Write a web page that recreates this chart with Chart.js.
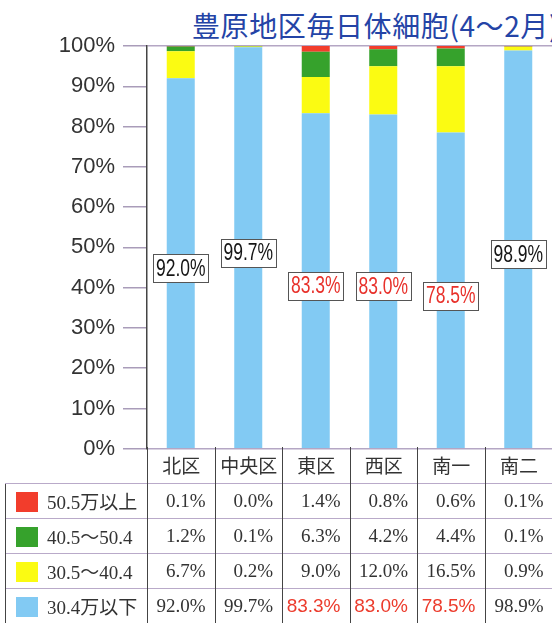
<!DOCTYPE html>
<html>
<head>
<meta charset="utf-8">
<script src="https://cdn.jsdelivr.net/npm/chart.js@4/dist/chart.umd.min.js"></script>
<style>
  html,body{margin:0;padding:0;background:#fff;width:552px;height:627px;overflow:hidden;position:relative;}
  #title{position:absolute;left:192px;top:8px;line-height:34px;white-space:nowrap;font-family:"Noto Sans CJK JP",sans-serif;font-size:28px;letter-spacing:0.6px;color:#2444a6;}
  #wrap{position:absolute;left:0;top:0;width:552px;height:470px;}
  #tbl{position:absolute;left:5px;top:447px;border-collapse:collapse;table-layout:fixed;width:547px;}
  #tbl td{padding:0;height:35px;box-sizing:border-box;overflow:hidden;white-space:nowrap;}
  #tbl td.hdr{text-align:center;font-family:"Noto Sans CJK JP",sans-serif;font-size:19px;color:#333;border-left:1.5px solid #444;}
  #tbl td.blank{border:none;}
  #tbl td.leg{border-left:1.5px solid #444;border-top:1.5px solid #b9aac9;font-family:"Liberation Serif","Noto Sans CJK JP",serif;font-size:19px;color:#333;}
  #tbl td.val{border-left:1.5px solid #444;border-top:1.5px solid #b9aac9;text-align:right;padding-right:9px;font-family:"Liberation Serif",serif;font-size:19px;color:#333;}
  #tbl td.val.red{color:#ec3b2c;font-family:"Liberation Sans",sans-serif;}
  .sw{display:inline-block;width:22px;height:20px;margin-left:10px;margin-right:9px;vertical-align:-3px;}
</style>
</head>
<body>
<div id="title">豊原地区毎日体細胞(4～2月)</div>
<div id="wrap"><canvas id="c" width="552" height="470"></canvas></div>
<table id="tbl"></table>
<script>
// ---- data ----
const categories = ['北区', '中央区', '東区', '西区', '南一', '南二'];
const seriesNames = ['30.4万以下', '30.5～40.4', '40.5～50.4', '50.5万以上'];
const below304 = [92.0, 99.7, 83.3, 83.0, 78.5, 98.9];
const from305to404 = [6.7, 0.2, 9.0, 12.0, 16.5, 0.9];
const from405to504 = [1.2, 0.1, 6.3, 4.2, 4.4, 0.1];
const over505 = [0.1, 0.0, 1.4, 0.8, 0.6, 0.1];
const highlighted = [false, false, true, true, true, false];
const yMax = 100;
const yStep = 10;

// ---- styles ----
const colors = ['#82caf3', '#fbfb12', '#36a22c', '#f23d2c'];
const seriesData = [below304, from305to404, from405to504, over505];

const labelPlugin = {
  id: 'boxLabels',
  afterDatasetsDraw(chart) {
    const meta = chart.getDatasetMeta(0);
    const ys = chart.scales.y;
    const ctx = chart.ctx;
    ctx.save();
    meta.data.forEach((bar, i) => {
      const v = below304[i];
      const cx = bar.x;
      const cy = ys.getPixelForValue(v / 2 - 1.2);
      const w = 55, h = 28;
      ctx.fillStyle = '#fff';
      ctx.fillRect(Math.round(cx - w / 2) + 0.5, Math.round(cy - h / 2) + 0.5, w, h);
      ctx.strokeStyle = '#555';
      ctx.lineWidth = 1;
      ctx.strokeRect(Math.round(cx - w / 2) + 0.5, Math.round(cy - h / 2) + 0.5, w, h);
      ctx.save();
      ctx.translate(cx, cy + 1);
      ctx.scale(0.76, 1);
      ctx.font = '23px "Liberation Sans", sans-serif';
      ctx.textAlign = 'center';
      ctx.textBaseline = 'middle';
      ctx.fillStyle = highlighted[i] ? '#e8302a' : '#151515';
      ctx.fillText(v.toFixed(1) + '%', 0, 0);
      ctx.restore();
    });
    ctx.restore();
  }
};

new Chart(document.getElementById('c'), {
  type: 'bar',
  data: {
    labels: categories,
    datasets: seriesData.map((d, k) => ({
      label: seriesNames[k],
      data: d,
      backgroundColor: colors[k],
      borderWidth: 0,
      barPercentage: 0.415,
      categoryPercentage: 1.0
    }))
  },
  options: {
    responsive: false,
    animation: false,
    devicePixelRatio: 1,
    layout: { padding: { top: 46, bottom: 13, left: 0, right: 0 } },
    plugins: { legend: { display: false }, tooltip: { enabled: false }, title: { display: false } },
    scales: {
      x: { stacked: true, display: false },
      y: {
        stacked: true,
        min: 0,
        max: yMax,
        afterFit(scale) { scale.width = 147; },
        ticks: {
          stepSize: yStep,
          padding: 8,
          color: '#333',
          font: { size: 22, family: '"Liberation Sans", sans-serif' },
          callback: v => v + '%'
        },
        grid: {
          drawOnChartArea: true,
          color: c => (c.tick && (c.tick.value === 0 || c.tick.value === yMax)) ? '#b4a6c4' : 'rgba(0,0,0,0)',
          tickColor: '#a99cb9',
          tickLength: 24,
          lineWidth: 1.5
        },
        border: { display: true, color: '#444', width: 1.5 }
      }
    }
  },
  plugins: [labelPlugin]
});

// ---- data table ----
const tbl = document.getElementById('tbl');
let html = '<colgroup><col style="width:142px">' + categories.map(() => '<col style="width:67.5px">').join('') + '</colgroup>';
html += '<tr><td class="blank" style="height:36px"></td>' + categories.map(c => '<td class="hdr" style="height:36px">' + c + '</td>').join('') + '</tr>';
const rowOrder = [3, 2, 1, 0];
rowOrder.forEach(k => {
  html += '<tr><td class="leg"><span class="sw" style="background:' + colors[k] + '"></span>' + seriesNames[k] + '</td>';
  seriesData[k].forEach((v, i) => {
    const red = (k === 0 && highlighted[i]) ? ' red' : '';
    html += '<td class="val' + red + '">' + v.toFixed(1) + '%</td>';
  });
  html += '</tr>';
});
tbl.innerHTML = html;
</script>
</body>
</html>
